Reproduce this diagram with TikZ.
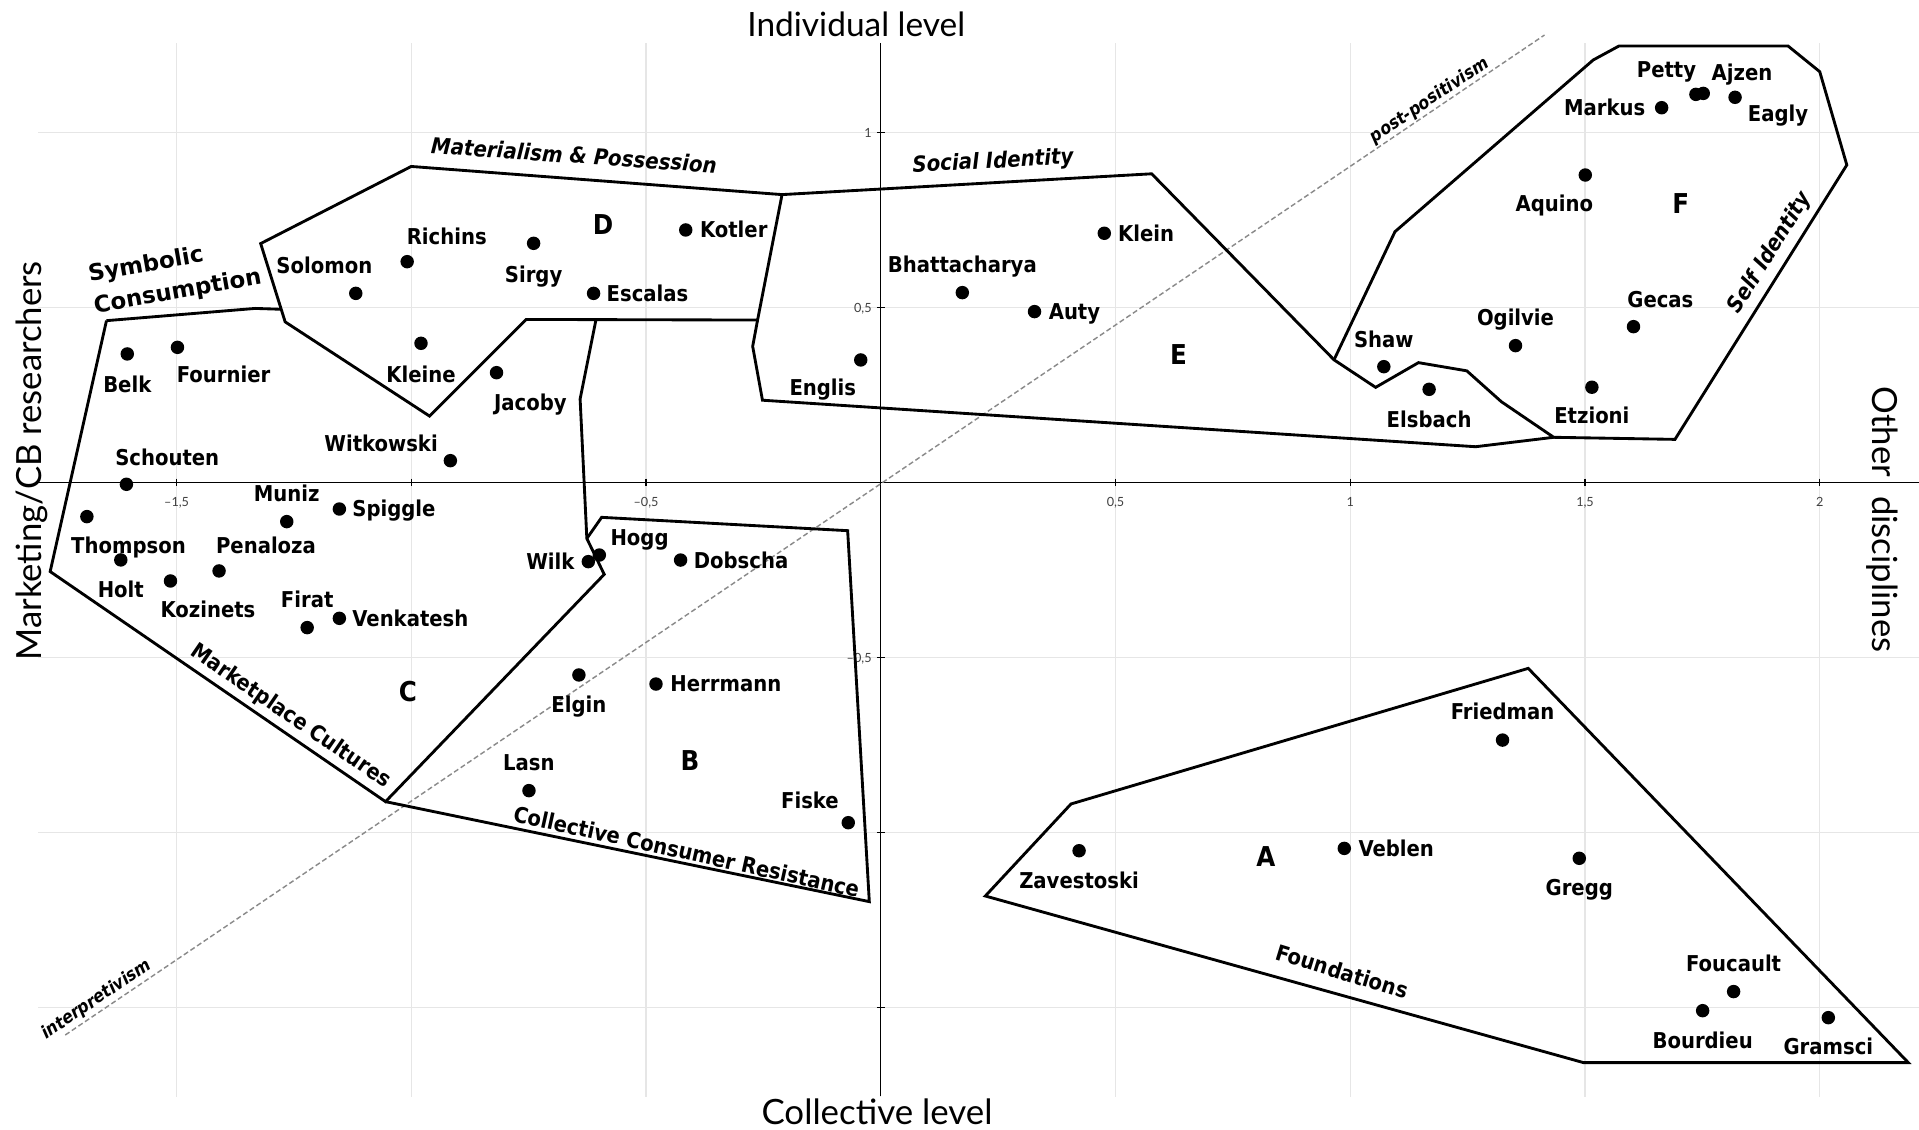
\documentclass[tikz,border=0pt]{standalone}
\usepackage{fontspec}
\newfontfamily\namefont{DejaVu Sans Condensed}
\newfontfamily\widefont{DejaVu Sans}
\newfontfamily\axisfont{Lato}
\usepackage{tikz}
\usetikzlibrary{positioning}
\definecolor{ink}{HTML}{000000}
\definecolor{gridc}{HTML}{E6E6E6}
\definecolor{dashc}{HTML}{8A8A8A}
\definecolor{tickc}{HTML}{404040}
\tikzset{
  author/.style={circle,fill=ink,inner sep=0pt,minimum size=6.6pt},
  who/.style={font=\namefont\bfseries\fontsize{10.7}{12}\selectfont,inner sep=0pt,text height=7.8pt,text depth=0pt},
  topic/.style={font=\namefont\bfseries\itshape\fontsize{10.8}{12}\selectfont,inner sep=0pt,text height=7.9pt,text depth=0pt},
  letter/.style={font=\namefont\bfseries\fontsize{13.4}{15}\selectfont,inner sep=0pt,text height=9.8pt,text depth=0pt},
  paralbl/.style={font=\namefont\bfseries\itshape\fontsize{8.7}{10}\selectfont,inner sep=0pt,text height=6.3pt,text depth=0pt},
  symb/.style={font=\widefont\bfseries\fontsize{11.2}{15.8}\selectfont,inner sep=0pt,align=left},
  axistitle/.style={font=\axisfont\fontsize{#1}{#1}\selectfont,inner sep=0pt,anchor=base},
  ticklbl/.style={font=\axisfont\fontsize{6.2}{7}\selectfont,text=tickc,inner sep=0pt,text height=4.4pt,text depth=0pt},
  border/.style={draw=ink,line width=1.4pt},
  paradigm/.style={draw=dashc,line width=0.7pt,dash pattern=on 2.5pt off 1.4pt},
  gridline/.style={draw=gridc,line width=0.6pt},
  axisline/.style={draw=ink,line width=0.6pt}
}
\begin{document}
\begin{tikzpicture}[x=0.6pt,y=-0.6pt]
  \useasboundingbox (0,0) rectangle (1568,923);
  % grid and axes
  \foreach \k in {-3,...,4} \draw[gridline] ({719.7+191.8*\k},35) -- ({719.7+191.8*\k},896);
  \foreach \k in {-3,...,2} \draw[gridline] (31,{394.3-143*\k}) -- (1568,{394.3-143*\k});
  \draw[axisline] (31,394.3) -- (1568,394.3);
  \draw[axisline] (719.7,35) -- (719.7,895.5);
  \foreach \k in {-3,-2,-1,1,2,3,4} \draw[axisline] ({719.7+191.8*\k},391) -- ({719.7+191.8*\k},397.5);
  \foreach \k in {-3,-2,-1,1,2} \draw[axisline] (716.5,{394.3-143*\k}) -- (723,{394.3-143*\k});
  \foreach \k/\t in {-3/{\textendash1,5},-1/{\textendash0,5},1/{0,5},2/1,3/{1,5},4/2}
    \node[ticklbl] (xt\k) at ({719.7+191.8*\k},410.5) {\t};
  \foreach \k/\t in {2/1,1/{0,5},-1/{\textendash0,5}}
    \node[ticklbl,anchor=east] (yt\k) at (712.5,{394.3-143*\k}) {\t};
  \node[axistitle=16.4] (indiv) at (699.7,30) {Individual level};
  \node[axistitle=17.1] (collect) at (716.6,919.1) {Collective level};
  \node[axistitle=17,rotate=90] (mkt) at (34,376.5) {Marketing/CB researchers};
  \node[axistitle=17,rotate=-90] (other) at (1530,424.5) {Other\hspace{5pt} disciplines};
  % paradigm line
  \coordinate (interp) at (53.3,845.7);
  \coordinate (postpos) at (1262,28.6);
  \draw[paradigm] (interp) -- (postpos);
  \node[paralbl,rotate=34] (interp-n) at (78.3,815.7) {interpretivism};
  \node[paralbl,rotate=34] (postpos-n) at (1167.5,81) {post-positivism};
  % clusters
  \draw[border] (336,136) -- (639,159) -- (619,261.5) -- (430,261) -- (351,340) -- (233,263) -- (213,199) -- cycle;
  \draw[border] (639,159) -- (941,142) -- (1090,294) -- (1124,316.5) -- (1159,296.3) -- (1198.5,303) -- (1226.7,328.2) -- (1269.5,357.3) -- (1205.7,365) -- (623,327) -- (615,283) -- (619,261.5);
  \draw[border] (1090,294) -- (1139.8,189.3) -- (1301.8,49) -- (1322.8,37.6) -- (1461,37.6) -- (1486.9,58.6) -- (1509,134.8) -- (1368.6,359) -- (1269.5,357.3);
  \draw[border] (87,262) -- (208.5,252) -- (229.8,252.7);
  \draw[border] (87,262) -- (41,467) -- (315,655) -- (493.7,469.3) -- (479.5,440) -- (474,326) -- (487,261);
  \draw[border] (479.5,440) -- (491.6,422.7) -- (692.6,433.6) -- (710.3,736.7) -- (315,655);
  \draw[border] (875.1,656.9) -- (1248.7,546.1) -- (1559.2,868.2) -- (1293.7,868.2) -- (805.1,732.1) -- cycle;
  \node[letter] (cD) at (492.7,183.8) {D};
  \node[letter] (cE) at (963,290) {E};
  \node[letter] (cF) at (1373.3,166.1) {F};
  \node[letter] (cC) at (333.3,565.1) {C};
  \node[letter] (cB) at (563.7,621) {B};
  \node[letter] (cA) at (1034.4,700) {A};
  \node[topic,rotate=-4] (matpos) at (469,126.8) {Materialism \& Possession};
  \node[topic,rotate=3] (socid) at (811.3,130.7) {Social Identity};
  \node[topic,rotate=58] (selfid) at (1445,205.6) {Self Identity};
  \node[who,rotate=-34.5] (mktcult) at (238.3,584.2) {Marketplace Cultures};
  \node[who,rotate=-12.5] (ccr) at (561,696) {Collective Consumer Resistance};
  \node[who,rotate=-17] (found) at (1096.7,793.9) {Foundations};
  \node[symb,rotate=10] (symcons) at (143,226) {Symbolic\\Consumption};
  % authors
  \node[author] (belk) at (104,289.2) {}; \node[who, below=7.2pt of belk] (belk-n) {Belk};
  \node[author] (fournier) at (145,283.8) {}; \node[who, below=5.5pt of fournier, xshift=22.6pt] (fournier-n) {Fournier};
  \node[author] (solomon) at (290.7,239.7) {}; \node[who, above=5.9pt of solomon, xshift=-15.4pt] (solomon-n) {Solomon};
  \node[author] (richins) at (332.7,213.8) {}; \node[who, above=4.7pt of richins, xshift=19.4pt] (richins-n) {Richins};
  \node[author] (sirgy) at (436,198.8) {}; \node[who, below=7.5pt of sirgy] (sirgy-n) {Sirgy};
  \node[author] (kleine) at (344,280.5) {}; \node[who, below=7.5pt of kleine] (kleine-n) {Kleine};
  \node[author] (jacoby) at (405.7,304.5) {}; \node[who, below=7pt of jacoby, xshift=16.6pt] (jacoby-n) {Jacoby};
  \node[author] (escalas) at (485,239.7) {}; \node[who, right=2.7pt of escalas] (escalas-n) {Escalas};
  \node[author] (kotler) at (560.3,187.9) {}; \node[who, right=3.3pt of kotler] (kotler-n) {Kotler};
  \node[author] (klein) at (902.3,190.6) {}; \node[who, right=3.1pt of klein] (klein-n) {Klein};
  \node[author] (bhatta) at (786.3,239.1) {}; \node[who, above=6.3pt of bhatta] (bhatta-n) {Bhattacharya};
  \node[author] (auty) at (845.3,254.6) {}; \node[who, right=3.3pt of auty] (auty-n) {Auty};
  \node[author] (englis) at (703.3,294.1) {}; \node[who, below=5.9pt of englis, xshift=-18.6pt] (englis-n) {Englis};
  \node[author] (schouten) at (103.3,395.7) {}; \node[who, above=5.5pt of schouten, xshift=20pt] (schouten-n) {Schouten};
  \node[author] (witkowski) at (368,376.4) {}; \node[who, left=2.5pt of witkowski, yshift=8.5pt] (witkowski-n) {Witkowski};
  \node[author] (thompson) at (71,422.1) {}; \node[who, below=6.7pt of thompson, xshift=20.4pt] (thompson-n) {Thompson};
  \node[author] (holt) at (98.7,457.5) {}; \node[who, below=7pt of holt] (holt-n) {Holt};
  \node[author] (kozinets) at (139.3,474.7) {}; \node[who, below=6.6pt of kozinets, xshift=18.4pt] (kozinets-n) {Kozinets};
  \node[author] (penaloza) at (179,466.5) {}; \node[who, above=5pt of penaloza, xshift=23pt] (penaloza-n) {Penaloza};
  \node[author] (muniz) at (234.3,426.2) {}; \node[who, above=6.2pt of muniz] (muniz-n) {Muniz};
  \node[author] (spiggle) at (277.3,415.9) {}; \node[who, right=2.7pt of spiggle] (spiggle-n) {Spiggle};
  \node[author] (firat) at (251,512.8) {}; \node[who, above=6.3pt of firat] (firat-n) {Firat};
  \node[author] (venkatesh) at (277.3,505.2) {}; \node[who, right=2.7pt of venkatesh] (venkatesh-n) {Venkatesh};
  \node[author] (wilk) at (480.7,458.9) {}; \node[who, left=3.1pt of wilk] (wilk-n) {Wilk};
  \node[author] (hogg) at (489.7,453.5) {}; \node[who, right=1.8pt of hogg, yshift=8.7pt] (hogg-n) {Hogg};
  \node[author] (dobscha) at (556.1,457.6) {}; \node[who, right=2.8pt of dobscha] (dobscha-n) {Dobscha};
  \node[author] (elgin) at (473,551.5) {}; \node[who, below=7pt of elgin] (elgin-n) {Elgin};
  \node[author] (herrmann) at (536,558.9) {}; \node[who, right=3.4pt of herrmann] (herrmann-n) {Herrmann};
  \node[author] (lasn) at (432.2,646) {}; \node[who, above=6.2pt of lasn] (lasn-n) {Lasn};
  \node[author] (fiske) at (693.1,672.2) {}; \node[who, above=3.1pt of fiske, xshift=-18.8pt] (fiske-n) {Fiske};
  \node[author] (zavestoski) at (881.7,695.1) {}; \node[who, below=7.1pt of zavestoski] (zavestoski-n) {Zavestoski};
  \node[author] (veblen) at (1098.4,693.2) {}; \node[who, right=3.3pt of veblen] (veblen-n) {Veblen};
  \node[author] (friedman) at (1227.7,604.7) {}; \node[who, above=6.2pt of friedman] (friedman-n) {Friedman};
  \node[author] (gregg) at (1290.4,701.3) {}; \node[who, below=6.6pt of gregg] (gregg-n) {Gregg};
  \node[author] (foucault) at (1416.5,810.2) {}; \node[who, above=6.3pt of foucault] (foucault-n) {Foucault};
  \node[author] (bourdieu) at (1391.2,825.8) {}; \node[who, below=6.8pt of bourdieu] (bourdieu-n) {Bourdieu};
  \node[author] (gramsci) at (1493.9,831.5) {}; \node[who, below=6.5pt of gramsci] (gramsci-n) {Gramsci};
  \node[author] (shaw) at (1130.7,299.6) {}; \node[who, above=5.9pt of shaw] (shaw-n) {Shaw};
  \node[author] (elsbach) at (1167.7,318.1) {}; \node[who, below=7pt of elsbach] (elsbach-n) {Elsbach};
  \node[author] (etzioni) at (1300.7,316.4) {}; \node[who, below=6.3pt of etzioni] (etzioni-n) {Etzioni};
  \node[author] (ogilvie) at (1238.3,282.4) {}; \node[who, above=6.2pt of ogilvie] (ogilvie-n) {Ogilvie};
  \node[author] (gecas) at (1334.7,266.9) {}; \node[who, above=5.9pt of gecas, xshift=13.2pt] (gecas-n) {Gecas};
  \node[author] (aquino) at (1295.3,143) {}; \node[who, below=6.6pt of aquino, xshift=-15.2pt] (aquino-n) {Aquino};
  \node[author] (markus) at (1357.7,88) {}; \node[who, left=4.3pt of markus] (markus-n) {Markus};
  \node[author] (petty) at (1385.7,77.1) {}; \node[who, above=4.7pt of petty, xshift=-14.4pt] (petty-n) {Petty};
  \node[author] (ajzen) at (1391.7,76.3) {}; \node[who, above=2.6pt of ajzen, xshift=19pt] (ajzen-n) {Ajzen};
  \node[author] (eagly) at (1417.7,79.5) {}; \node[who, right=2.6pt of eagly, yshift=-7.9pt] (eagly-n) {Eagly};
\end{tikzpicture}
\end{document}
